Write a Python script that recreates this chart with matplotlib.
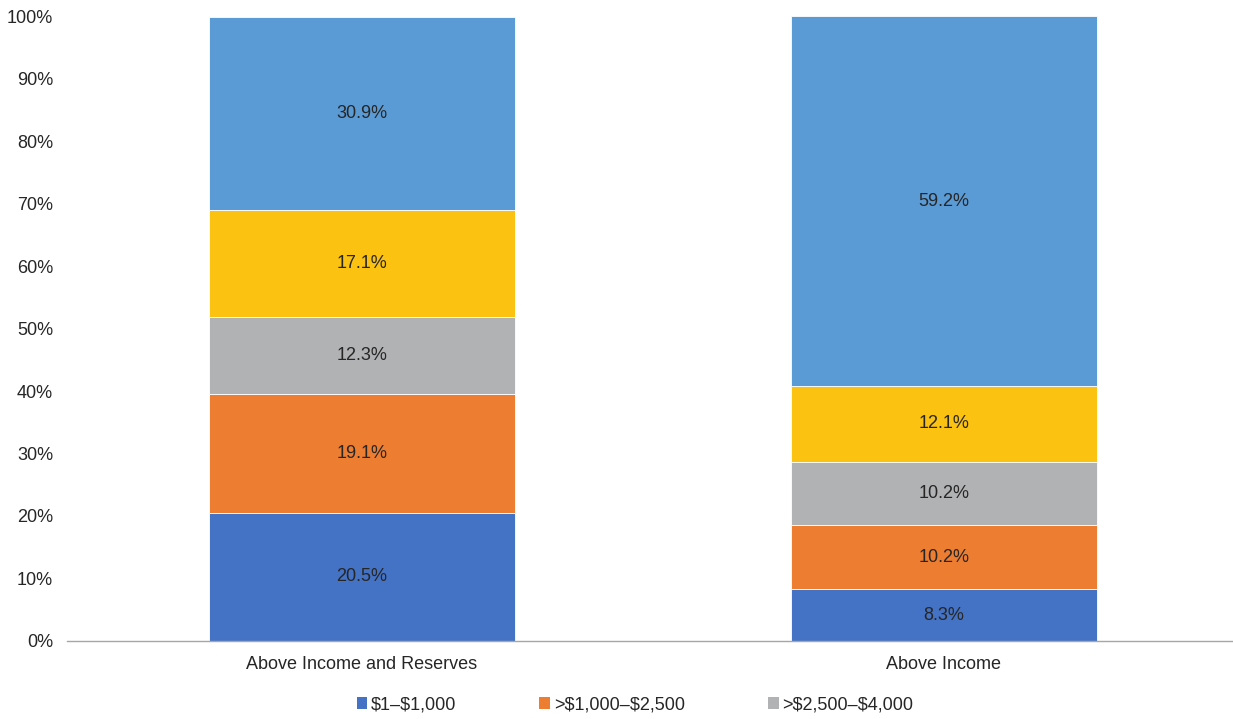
import matplotlib
matplotlib.use("Agg")
import matplotlib.pyplot as plt
from matplotlib.patches import Patch

plt.rcParams['font.family'] = ['Liberation Sans', 'DejaVu Sans']
plt.rcParams['text.parse_math'] = False

categories = ["Above Income and Reserves", "Above Income"]
series_names = ["$1\u2013$1,000", ">$1,000\u2013$2,500", ">$2,500\u2013$4,000", ">$4,000\u2013$6,000", ">$6,000"]
values = [
    [20.5, 8.3],
    [19.1, 10.2],
    [12.3, 10.2],
    [17.1, 12.1],
    [30.9, 59.2],
]
colors = ["#4472C4", "#ED7D31", "#B1B2B4", "#FBC212", "#5B9BD5"]
legend_count = 3

fig = plt.figure(figsize=(12.33, 7.19), dpi=100)
ax = fig.add_axes([0.0543, 0.1085, 0.9457, 0.8692])

x = list(range(len(categories)))
bottoms = [0.0] * len(categories)
for name, vals, col in zip(series_names, values, colors):
    ax.bar(x, vals, width=0.526, bottom=bottoms, color=col,
           edgecolor="white", linewidth=0.6, label=name)
    for xi, v, b in zip(x, vals, bottoms):
        ax.text(xi, b + v / 2, f"{v:.1f}%", ha="center", va="center",
                fontsize=13, color="#262626")
    bottoms = [b + v for b, v in zip(bottoms, vals)]

ax.set_xlim(-0.507, 1.497)
ax.set_ylim(0, 100)
ax.set_yticks(range(0, 101, 10))
ax.set_yticklabels([f"{t}%" for t in range(0, 101, 10)], fontsize=13, color="#262626")
ax.set_xticks(x)
ax.set_xticklabels(categories, fontsize=13, color="#262626")
ax.tick_params(axis="both", length=0)
ax.tick_params(axis="y", pad=10)
ax.tick_params(axis="x", pad=11)
for s in ["top", "right", "left"]:
    ax.spines[s].set_visible(False)
ax.spines["bottom"].set_color("#A6A6A6")
ax.spines["bottom"].set_linewidth(1.0)

handles = [Patch(facecolor=c, edgecolor="none") for c in colors[:legend_count]]
fig.legend(handles, series_names[:legend_count], loc="center",
           bbox_to_anchor=(0.515, 0.0195), ncol=legend_count, frameon=False,
           fontsize=13, handlelength=0.6, handleheight=0.6, handletextpad=0.2,
           columnspacing=4.6, labelcolor="#262626")

fig.savefig("out.png", dpi=100)
